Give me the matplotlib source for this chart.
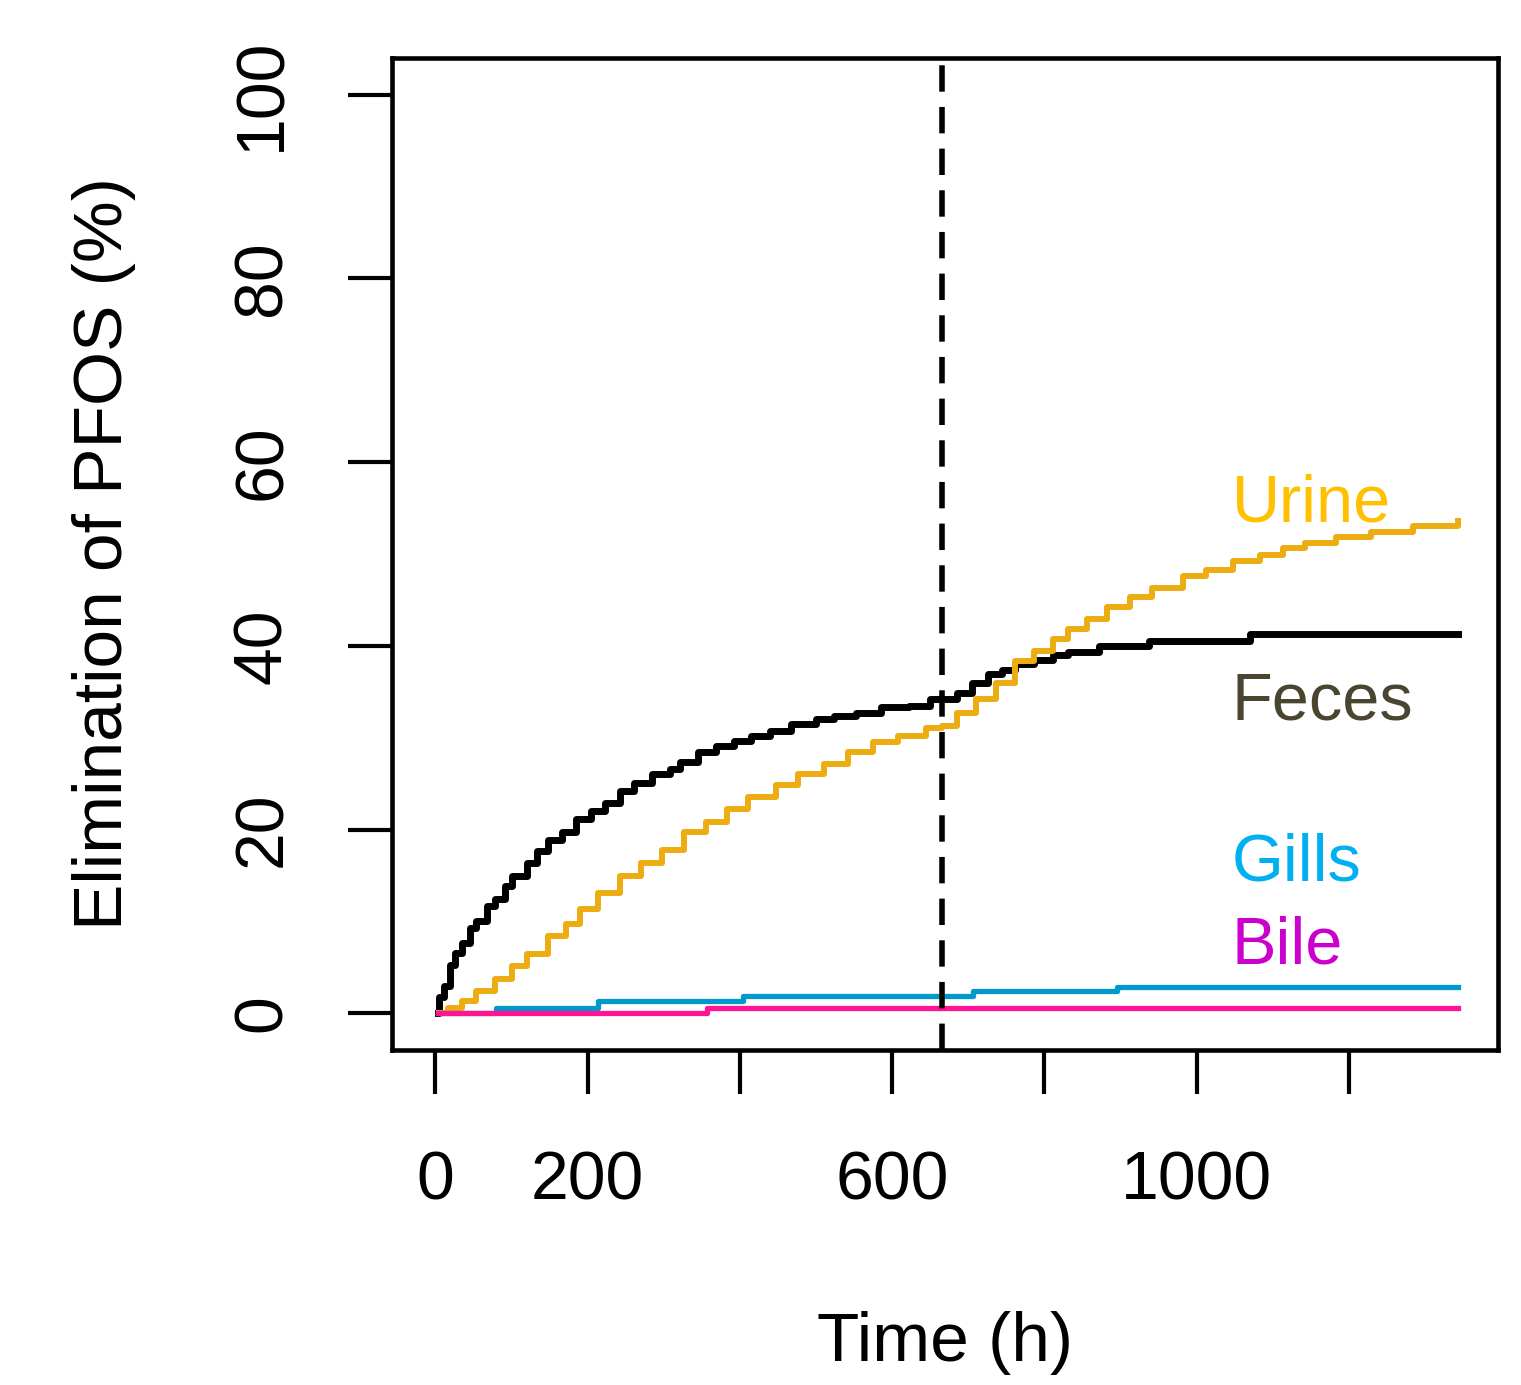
import matplotlib
matplotlib.use("Agg")
import matplotlib.pyplot as plt

plt.rcParams['lines.scale_dashes'] = False

# Feces (black)
feces_t = [4, 5, 12, 19, 26, 35, 45, 54, 68, 78, 92, 101, 120, 134, 148, 167, 185, 204,
           223, 242, 261, 284, 308, 322, 345, 369, 392, 415, 439, 467, 500, 524, 552, 585,
           622, 650, 666, 685, 705, 726, 745, 761, 786, 811, 831, 872, 937, 1070, 1344]
feces_v = [0, 1.8, 3.0, 5.2, 6.6, 7.7, 9.3, 10.0, 11.7, 12.4, 13.9, 14.9, 16.4, 17.7, 18.9,
           19.7, 21.1, 22.0, 22.9, 24.2, 25.1, 26.0, 26.6, 27.3, 28.4, 29.1, 29.6, 30.2, 30.7,
           31.5, 32.0, 32.4, 32.7, 33.3, 33.4, 34.2, 34.2, 34.9, 36.0, 36.9, 37.4, 38.0, 38.5,
           39.0, 39.3, 40.0, 40.5, 41.3, 41.3]

# Urine (orange)
urine_t = [5, 17, 35, 54, 78, 101, 120, 148, 171, 190, 214, 242, 270, 298, 326, 355, 383,
           411, 448, 477, 510, 542, 575, 608, 645, 666, 685, 710, 736, 761, 786, 811, 831,
           856, 882, 912, 942, 982, 1012, 1048, 1083, 1113, 1143, 1183, 1229, 1284, 1344]
urine_v = [0, 0.6, 1.3, 2.4, 3.7, 5.1, 6.4, 8.4, 9.7, 11.3, 13.1, 14.9, 16.4, 17.8, 19.7,
           20.8, 22.2, 23.5, 24.9, 26.0, 27.1, 28.4, 29.5, 30.2, 31.1, 31.3, 32.7, 34.2, 36.0,
           38.3, 39.4, 40.7, 41.8, 42.9, 44.2, 45.3, 46.3, 47.6, 48.3, 49.2, 49.9, 50.6, 51.2,
           51.8, 52.4, 53.0, 53.6]

# Gills (blue)
gills_t = [4, 80, 214, 404, 706, 896, 1344]
gills_v = [0, 0.6, 1.3, 1.9, 2.4, 2.9, 2.9]

# Bile (pink)
bile_t = [3, 357, 1344]
bile_v = [0, 0.6, 0.6]

switch_time = 666

xticks = [0, 200, 400, 600, 800, 1000, 1200]
xtick_labels = ['0', '200', '', '600', '', '1000', '']
yticks = [0, 20, 40, 60, 80, 100]

narrow = ['Liberation Sans Narrow', 'Liberation Sans', 'DejaVu Sans']
regular = ['Liberation Sans', 'DejaVu Sans']

fig = plt.figure(figsize=(15.21, 13.85), dpi=100)
ax = fig.add_axes([0.2577, 0.2419, 0.9849 - 0.2577, 0.9581 - 0.2419])

ax.plot(feces_t, feces_v, drawstyle='steps-post', color='black', lw=5)
ax.plot(urine_t, urine_v, drawstyle='steps-post', color='#EDAC12', lw=4.3)
ax.plot(gills_t, gills_v, drawstyle='steps-post', color='#0099CC', lw=3.8)
ax.plot(bile_t, bile_v, drawstyle='steps-post', color='#FF1493', lw=3.8)
ax.axvline(switch_time, color='black', lw=4, dashes=(19, 11))

# labels next to curves
ax.text(1046, 53.5, 'Urine', color='#FFC000', fontsize=48, family=regular, va='baseline')
ax.text(1046, 32.0, 'Feces', color='#4A4530', fontsize=48, family=regular, va='baseline')
ax.text(1046, 14.5, 'Gills', color='#00B0F0', fontsize=48, family=regular, va='baseline')
ax.text(1046, 5.4, 'Bile', color='#CC00CC', fontsize=48, family=regular, va='baseline')

ax.set_xlim(-57, 1396)
ax.set_ylim(-4, 104)

ax.set_xticks(xticks)
ax.set_xticklabels(xtick_labels, family=narrow, fontsize=49)
ax.set_yticks(yticks)
ax.set_yticklabels([str(v) for v in yticks], family=narrow, fontsize=49,
                   rotation=90, va='center')
ax.tick_params(axis='both', direction='out', length=32, width=3, color='black')
ax.tick_params(axis='x', pad=40)
ax.tick_params(axis='y', pad=38)

for s in ax.spines.values():
    s.set_linewidth(3.3)

ax.set_xlabel('Time (h)', family=regular, fontsize=50, labelpad=70)
ax.set_ylabel('Elimination of PFOS (%)', family=regular, fontsize=50, labelpad=68)

fig.savefig('out.png', dpi=100)
